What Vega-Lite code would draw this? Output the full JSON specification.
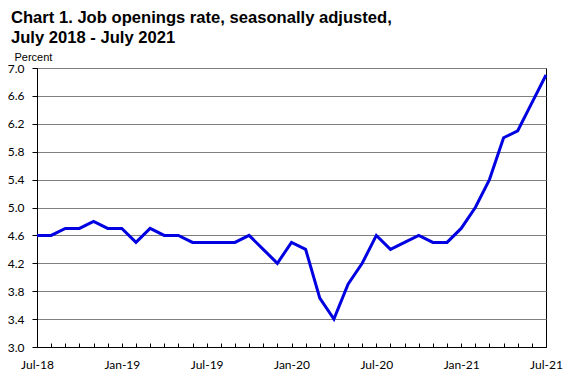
{
  "$schema": "https://vega.github.io/schema/vega-lite/v6.json",
  "autosize": {"type": "none"},
  "width": 509,
  "height": 279,
  "padding": {"left": 37, "top": 68, "right": 32, "bottom": 39},
  "background": "white",
  "config": {
    "font": "Liberation Sans",
    "view": {"stroke": "black", "strokeWidth": 1}
  },
  "title": {
    "text": ["Chart 1. Job openings rate, seasonally adjusted,", "July 2018 - July 2021"],
    "font": "Liberation Sans",
    "fontSize": 16.6,
    "fontWeight": "bold",
    "color": "black",
    "anchor": "start",
    "frame": "group",
    "dx": -26,
    "offset": 4,
    "lineHeight": 20
  },
  "data": {
    "values": [
      {"month": "Jul-18", "rate": 4.6},
      {"month": "Aug-18", "rate": 4.6},
      {"month": "Sep-18", "rate": 4.7},
      {"month": "Oct-18", "rate": 4.7},
      {"month": "Nov-18", "rate": 4.8},
      {"month": "Dec-18", "rate": 4.7},
      {"month": "Jan-19", "rate": 4.7},
      {"month": "Feb-19", "rate": 4.5},
      {"month": "Mar-19", "rate": 4.7},
      {"month": "Apr-19", "rate": 4.6},
      {"month": "May-19", "rate": 4.6},
      {"month": "Jun-19", "rate": 4.5},
      {"month": "Jul-19", "rate": 4.5},
      {"month": "Aug-19", "rate": 4.5},
      {"month": "Sep-19", "rate": 4.5},
      {"month": "Oct-19", "rate": 4.6},
      {"month": "Nov-19", "rate": 4.4},
      {"month": "Dec-19", "rate": 4.2},
      {"month": "Jan-20", "rate": 4.5},
      {"month": "Feb-20", "rate": 4.4},
      {"month": "Mar-20", "rate": 3.7},
      {"month": "Apr-20", "rate": 3.4},
      {"month": "May-20", "rate": 3.9},
      {"month": "Jun-20", "rate": 4.2},
      {"month": "Jul-20", "rate": 4.6},
      {"month": "Aug-20", "rate": 4.4},
      {"month": "Sep-20", "rate": 4.5},
      {"month": "Oct-20", "rate": 4.6},
      {"month": "Nov-20", "rate": 4.5},
      {"month": "Dec-20", "rate": 4.5},
      {"month": "Jan-21", "rate": 4.7},
      {"month": "Feb-21", "rate": 5.0},
      {"month": "Mar-21", "rate": 5.4},
      {"month": "Apr-21", "rate": 6.0},
      {"month": "May-21", "rate": 6.1},
      {"month": "Jun-21", "rate": 6.5},
      {"month": "Jul-21", "rate": 6.9}
    ]
  },
  "mark": {"type": "line", "color": "#0000E0", "strokeWidth": 3, "strokeJoin": "miter"},
  "encoding": {
    "x": {
      "field": "month",
      "type": "ordinal",
      "sort": null,
      "scale": {"type": "point", "padding": 0},
      "axis": {
        "title": null,
        "labelAngle": 0,
        "labelExpr": "indexof(datum.label,'Jan')==0 || indexof(datum.label,'Jul')==0 ? datum.label : ''",
        "labelFont": "Lato",
        "labelFontSize": 12,
        "labelColor": "black",
        "labelPadding": 16,
        "tickSize": -4,
        "tickColor": "black",
        "domainColor": "black",
        "grid": false,
        "labelOverlap": false
      }
    },
    "y": {
      "field": "rate",
      "type": "quantitative",
      "scale": {"domain": [3.0, 7.0], "nice": false, "zero": false},
      "axis": {
        "values": [3.0, 3.4, 3.8, 4.2, 4.6, 5.0, 5.4, 5.8, 6.2, 6.6, 7.0],
        "format": ".1f",
        "title": "Percent",
        "titleAngle": 0,
        "titleAlign": "left",
        "titleBaseline": "bottom",
        "titleX": -23,
        "titleY": -6,
        "titleFont": "Liberation Sans",
        "titleFontSize": 11,
        "titleFontWeight": "normal",
        "titleColor": "black",
        "labelFont": "Lato",
        "labelFontSize": 12,
        "labelColor": "black",
        "labelPadding": 8,
        "tickSize": 5,
        "tickColor": "black",
        "domainColor": "black",
        "gridColor": "#808080",
        "gridOpacity": 1,
        "gridWidth": 1
      }
    }
  }
}
